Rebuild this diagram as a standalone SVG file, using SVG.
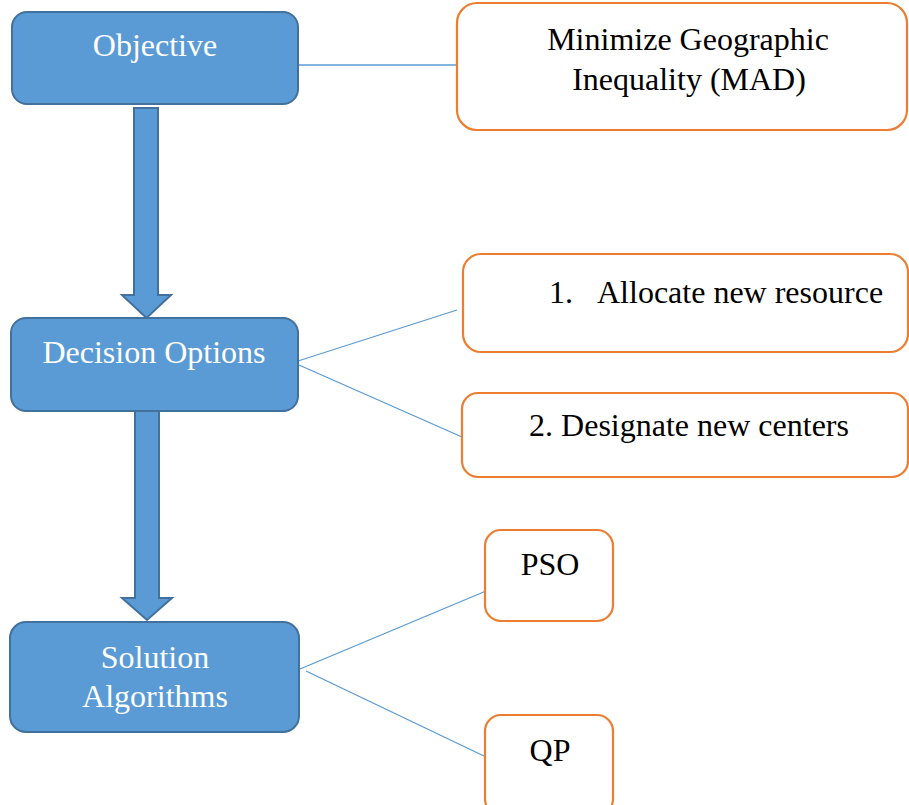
<svg xmlns="http://www.w3.org/2000/svg" width="909" height="805" viewBox="0 0 909 805">
<style>
.blue{fill:#5b9bd5;stroke:#41719c;stroke-width:2}
.org{fill:#ffffff;stroke:#ed7d31;stroke-width:2.2}
.wt{font-family:'Liberation Serif',serif;font-size:32px;fill:#ffffff;text-anchor:middle}
.bt{font-family:'Liberation Serif',serif;font-size:32px;fill:#000000;text-anchor:middle}
.st{text-anchor:start}
.ln{stroke:#5b9bd5;stroke-width:1.3;fill:none}
</style>
<rect width="909" height="805" fill="#ffffff"/>
<g id="connectors">
<line class="ln" x1="298" y1="65" x2="457" y2="65"/>
<line class="ln" x1="298" y1="361" x2="457" y2="310"/>
<line class="ln" x1="299" y1="365" x2="462" y2="437"/>
<line class="ln" x1="300" y1="669" x2="486" y2="591"/>
<line class="ln" x1="306" y1="671" x2="486" y2="757"/>
<path class="blue" d="M134,108 H158 V295 H171 L146.5,318 L122,295 H134 Z"/>
<path class="blue" d="M135,411 H159 V598 H172 L147,620 L122,598 H135 Z"/>
</g>
<g id="objective">
<rect class="blue" x="12" y="12" width="286" height="92" rx="15"/>
<text class="wt" x="155" y="56">Objective</text>
</g>
<g id="decision">
<rect class="blue" x="11" y="318" width="287" height="93" rx="15"/>
<text class="wt" x="154" y="363">Decision Options</text>
</g>
<g id="solution">
<rect class="blue" x="10" y="622" width="289" height="110" rx="16"/>
<text class="wt" x="155" y="668">Solution</text>
<text class="wt" x="155" y="707">Algorithms</text>
</g>
<g id="mad">
<rect class="org" x="457" y="3" width="450" height="127" rx="20"/>
<text class="bt" x="688" y="50">Minimize Geographic</text>
<text class="bt" x="689" y="90">Inequality (MAD)</text>
</g>
<g id="allocate">
<rect class="org" x="463" y="254" width="445" height="98" rx="18"/>
<text class="bt st" x="549" y="303">1.</text>
<text class="bt st" x="597" y="303">Allocate new resource</text>
</g>
<g id="designate">
<rect class="org" x="462" y="393" width="446" height="84" rx="16"/>
<text class="bt" x="689" y="436">2. Designate new centers</text>
</g>
<g id="pso">
<rect class="org" x="485" y="530" width="128" height="91" rx="16"/>
<text class="bt" x="550" y="575">PSO</text>
</g>
<g id="qp">
<rect class="org" x="485" y="715" width="128" height="100" rx="16"/>
<text class="bt" x="550" y="761">QP</text>
</g>
</svg>
